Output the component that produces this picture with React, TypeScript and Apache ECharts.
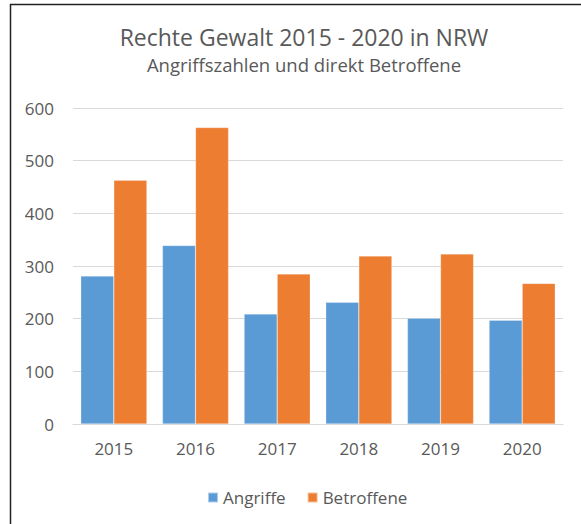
import React, { useEffect, useRef } from "react";
import * as echarts from "echarts";

const categories = ["2015", "2016", "2017", "2018", "2019", "2020"];
const angriffe = [281, 339, 209, 231, 201, 197];
const betroffene = [463, 563, 285, 319, 323, 267];
const titleText = "Rechte Gewalt 2015 - 2020 in NRW";
const subtitleText = "Angriffszahlen und direkt Betroffene";

const FONT = "'Open Sans', 'Noto Sans', sans-serif";
const TEXT = "#595959";

export default function App() {
  const ref = useRef<HTMLDivElement>(null);
  useEffect(() => {
    if (!ref.current) return;
    const chart = echarts.init(ref.current, undefined, { renderer: "svg" });
    chart.setOption({
      animation: false,
      backgroundColor: "#ffffff",
      title: {
        text: titleText,
        subtext: subtitleText,
        left: 299,
        textAlign: "center",
        top: 20,
        itemGap: 7,
        textStyle: { fontFamily: FONT, fontSize: 23, fontWeight: "normal", color: TEXT },
        subtextStyle: { fontFamily: FONT, fontSize: 18.5, color: TEXT },
      },
      legend: {
        top: 484,
        left: 202,
        itemWidth: 10,
        itemHeight: 10,
        itemGap: 21,
        icon: "rect",
        textStyle: { fontFamily: FONT, fontSize: 17, color: TEXT },
        data: ["Angriffe", "Betroffene"],
      },
      grid: { left: 73, right: 18, top: 108, bottom: 100, containLabel: false },
      xAxis: {
        type: "category",
        data: categories,
        axisTick: { show: false },
        axisLine: { lineStyle: { color: "#D9D9D9", width: 1 } },
        axisLabel: { fontFamily: FONT, fontSize: 17, color: TEXT, margin: 16 },
      },
      yAxis: {
        type: "value",
        min: 0,
        max: 600,
        interval: 100,
        axisLine: { show: false },
        axisTick: { show: false },
        axisLabel: { fontFamily: FONT, fontSize: 17, color: TEXT, margin: 19 },
        splitLine: { lineStyle: { color: "#D9D9D9", width: 1 } },
      },
      series: [
        {
          name: "Angriffe",
          type: "bar",
          data: angriffe,
          barGap: "0%",
          barCategoryGap: "19%",
          itemStyle: { color: "#5B9BD5", borderColor: "rgba(255,255,255,0.5)", borderWidth: 0.5 },
        },
        {
          name: "Betroffene",
          type: "bar",
          data: betroffene,
          barGap: "0%",
          barCategoryGap: "19%",
          itemStyle: { color: "#ED7D31", borderColor: "rgba(255,255,255,0.5)", borderWidth: 0.5 },
        },
      ],
      graphic: [
        { type: "line", shape: { x1: 10, y1: 4.5, x2: 581, y2: 4.5 }, style: { stroke: "#222", lineWidth: 1.5 } },
        { type: "line", shape: { x1: 10.5, y1: 4, x2: 10.5, y2: 524 }, style: { stroke: "#222", lineWidth: 1.5 } },
      ],
    });
    return () => chart.dispose();
  }, []);
  return (
    <div
      ref={ref}
      style={{ position: "absolute", left: 0, top: 0, width: 581, height: 524 }}
    />
  );
}
